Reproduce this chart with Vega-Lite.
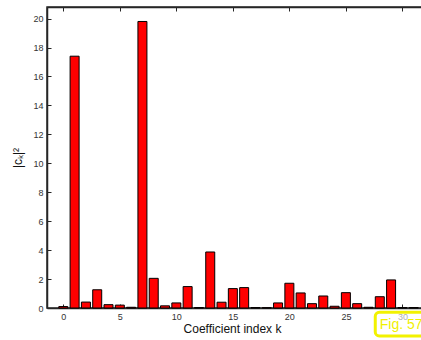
{
  "$schema": "https://vega.github.io/schema/vega-lite/v6.json",
  "autosize": "none",
  "padding": {"left": 47, "top": 7, "right": 0, "bottom": 33},
  "width": 383,
  "height": 301,
  "background": "white",
  "data": {"values": [
    {"k": 0, "v": 0.1}, {"k": 1, "v": 17.4}, {"k": 2, "v": 0.41}, {"k": 3, "v": 1.26},
    {"k": 4, "v": 0.23}, {"k": 5, "v": 0.2}, {"k": 6, "v": 0.05}, {"k": 7, "v": 19.8},
    {"k": 8, "v": 2.05}, {"k": 9, "v": 0.15}, {"k": 10, "v": 0.35}, {"k": 11, "v": 1.48},
    {"k": 12, "v": 0.03}, {"k": 13, "v": 3.87}, {"k": 14, "v": 0.4}, {"k": 15, "v": 1.34},
    {"k": 16, "v": 1.41}, {"k": 17, "v": 0.03}, {"k": 18, "v": 0.02}, {"k": 19, "v": 0.35},
    {"k": 20, "v": 1.71}, {"k": 21, "v": 1.04}, {"k": 22, "v": 0.3}, {"k": 23, "v": 0.83},
    {"k": 24, "v": 0.12}, {"k": 25, "v": 1.06}, {"k": 26, "v": 0.3}, {"k": 27, "v": 0.05},
    {"k": 28, "v": 0.78}, {"k": 29, "v": 1.94}, {"k": 30, "v": 0.03}, {"k": 31, "v": 0.03}
  ]},
  "resolve": {"axis": {"x": "independent"}},
  "layer": [
    {
      "mark": {"type": "bar", "size": 9, "fill": "#ff0000", "stroke": "#000000", "strokeWidth": 1},
      "encoding": {
        "x": {"field": "k", "type": "quantitative",
              "scale": {"domain": [-1, 32], "nice": false, "zero": false},
              "axis": {"orient": "bottom", "values": [0, 5, 10, 15, 20, 25, 30], "tickSize": -4, "labelPadding": 8,
                       "title": "Coefficient index k", "titleFontSize": 12, "titleFontWeight": "normal", "titlePadding": 2, "titleX": 185, "titleColor": "#111"}},
        "y": {"field": "v", "type": "quantitative",
              "scale": {"domain": [0, 20.8], "nice": false},
              "axis": {"values": [0, 2, 4, 6, 8, 10, 12, 14, 16, 18, 20], "labelOverlap": false, "tickSize": -4, "labelPadding": 8,
                       "title": "|cₖ|²", "titleFontSize": 12, "titleFontWeight": "normal", "titleColor": "#111", "titlePadding": 8}}
      }
    },
    {
      "mark": {"type": "rule", "opacity": 0},
      "encoding": {
        "x": {"field": "k", "type": "quantitative",
              "axis": {"orient": "top", "values": [0, 5, 10, 15, 20, 25, 30], "tickSize": -4, "labels": false, "title": null}}
      }
    },
    {
      "data": {"values": [{"label": "Fig. 57"}]},
      "mark": {"type": "rect", "fill": "white", "fillOpacity": 0.6, "stroke": "#f2f200", "strokeWidth": 3, "cornerRadius": 4, "clip": false},
      "encoding": {
        "x": {"datum": 27.6, "type": "quantitative", "axis": null},
        "x2": {"datum": 34},
        "y": {"datum": -0.3, "type": "quantitative",
              "axis": {"values": [0, 2, 4, 6, 8, 10, 12, 14, 16, 18, 20], "labelOverlap": false, "tickSize": -4, "labelPadding": 8,
                       "title": "|cₖ|²", "titleFontSize": 12, "titleFontWeight": "normal", "titleColor": "#111", "titlePadding": 8}},
        "y2": {"datum": -1.93}
      }
    },
    {
      "data": {"values": [{"label": "Fig. 57"}]},
      "mark": {"type": "text", "align": "left", "baseline": "alphabetic", "color": "#f0f000", "fontSize": 14, "font": "Liberation Sans", "clip": false},
      "encoding": {
        "text": {"field": "label"},
        "x": {"datum": 28.0, "type": "quantitative", "axis": null},
        "y": {"datum": -1.43, "type": "quantitative",
              "axis": {"values": [0, 2, 4, 6, 8, 10, 12, 14, 16, 18, 20], "labelOverlap": false, "tickSize": -4, "labelPadding": 8,
                       "title": "|cₖ|²", "titleFontSize": 12, "titleFontWeight": "normal", "titleColor": "#111", "titlePadding": 8}}
      }
    }
  ],
  "config": {
    "view": {"stroke": "#262626", "strokeWidth": 1.5},
    "axis": {"domainColor": "#262626", "domainWidth": 1.5, "tickColor": "#262626", "grid": false,
             "labelFont": "Liberation Sans", "labelFontSize": 9, "labelColor": "#333333",
             "titleFont": "Liberation Sans"}
  }
}
